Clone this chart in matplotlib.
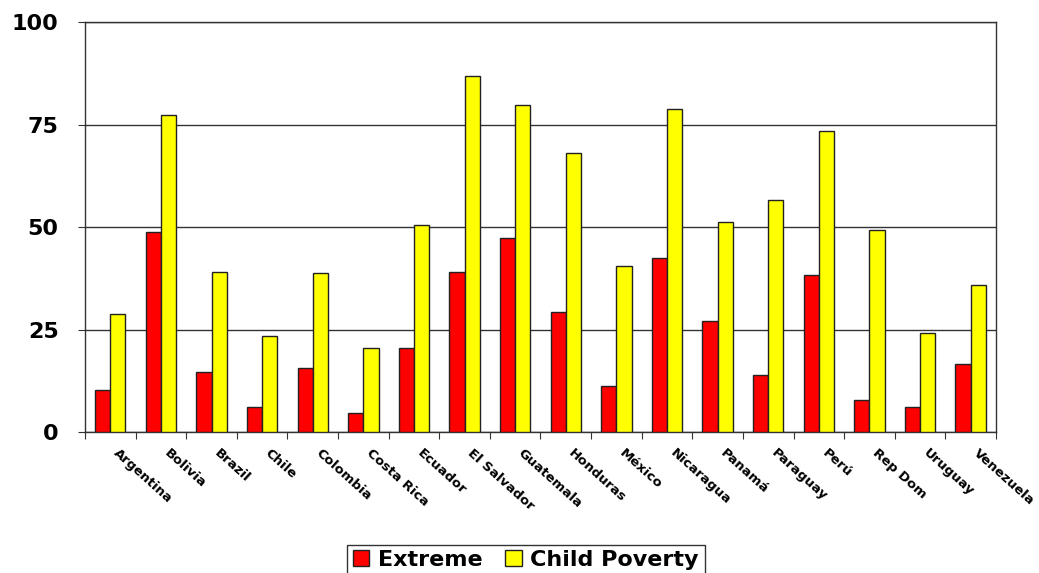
import numpy as np
import matplotlib
matplotlib.use("Agg")
import matplotlib.pyplot as plt

# countries and poverty rates (%)
countries = ['Argentina', 'Bolivia', 'Brazil', 'Chile', 'Colombia', 'Costa Rica',
             'Ecuador', 'El Salvador', 'Guatemala', 'Honduras', 'México', 'Nicaragua',
             'Panamá', 'Paraguay', 'Perú', 'Rep Dom', 'Uruguay', 'Venezuela']
extreme = [10.2, 48.8, 14.6, 6.1, 15.6, 4.6, 20.5, 39.0, 47.3, 29.3,
           11.2, 42.4, 27.1, 13.9, 38.3, 7.8, 6.1, 16.6]
child_poverty = [28.8, 77.3, 39.0, 23.4, 38.8, 20.5, 50.5, 86.8, 79.8, 68.0,
                 40.5, 78.8, 51.2, 56.6, 73.4, 49.3, 24.1, 35.9]
yticks = [0, 25, 50, 75, 100]

plt.rcParams['font.family'] = ['DejaVu Sans']
plt.rcParams['font.weight'] = 'bold'

fig = plt.figure(figsize=(10.39, 5.73), dpi=100)
ax = fig.add_axes([0.0818, 0.246, 0.8768, 0.7156])

x = np.arange(len(countries))
w = 0.3
edge = '#222222'
ax.bar(x + 0.5 - w / 2, extreme, w, color='#ff0000', edgecolor=edge, linewidth=1, label='Extreme', zorder=3)
ax.bar(x + 0.5 + w / 2, child_poverty, w, color='#ffff00', edgecolor=edge, linewidth=1, label='Child Poverty', zorder=3)

ax.set_xlim(0, len(countries))
ax.set_ylim(0, 100)
ax.set_yticks(yticks)
ax.set_yticklabels([str(v) for v in yticks], fontsize=16, fontweight='bold')
ax.yaxis.grid(True, color='#333333', linewidth=1, zorder=0)

# category boundary ticks, labels drawn separately
ax.set_xticks(np.arange(len(countries) + 1))
ax.set_xticklabels([])
ax.tick_params(axis='x', direction='out', length=5, color='#333333')
ax.tick_params(axis='y', direction='out', length=5, color='#333333', pad=14)
for i, name in enumerate(countries):
    ax.text(i + 0.68, -3.5, name, rotation=-42, rotation_mode='anchor',
            ha='left', va='top', fontsize=9.5, fontweight='bold')

for s in ax.spines.values():
    s.set_color('#333333')
    s.set_linewidth(1)

leg = fig.legend(loc='lower center', bbox_to_anchor=(0.506, -0.024), ncol=2,
                 frameon=True, fancybox=False, handlelength=0.75,
                 handleheight=0.75, handletextpad=0.4, columnspacing=1.0,
                 borderpad=0.25, prop={'weight': 'bold', 'size': 16})
leg.get_frame().set_edgecolor('black')
leg.get_frame().set_linewidth(1)

fig.savefig('out.png', dpi=100)
